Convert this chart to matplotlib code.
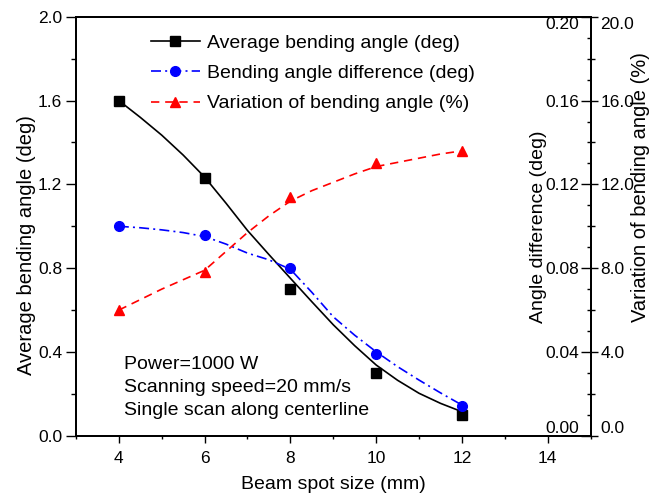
import numpy as np
import matplotlib
matplotlib.use("Agg")
from matplotlib import pyplot as plt
from matplotlib.ticker import MultipleLocator

plt.rcParams['font.family'] = ['Liberation Sans', 'DejaVu Sans']

# measured points
spot = np.array([4, 6, 8, 10, 12])
avg_angle = np.array([1.60, 1.23, 0.70, 0.30, 0.10])      # deg
angle_diff = np.array([0.100, 0.096, 0.080, 0.039, 0.014])  # deg
variation = np.array([6.0, 7.8, 11.4, 13.0, 13.6])         # %

# smoothed curves
curve_x = np.array([4, 4.5, 5, 5.5, 6, 6.5, 7, 7.5, 8, 8.5, 9, 9.5, 10, 10.5, 11, 11.5, 12])
avg_curve = np.array([1.60, 1.52, 1.435, 1.34, 1.235, 1.11, 0.98, 0.865, 0.752, 0.64,
                      0.53, 0.43, 0.338, 0.265, 0.203, 0.155, 0.115])
diff_curve = np.array([0.1000, 0.0993, 0.0983, 0.0970, 0.0951, 0.0915, 0.0872, 0.0840, 0.0795,
                       0.0685, 0.0568, 0.0480, 0.0401, 0.0330, 0.0266, 0.0205, 0.0147])
var_curve = np.array([6.0, 6.5, 7.0, 7.45, 7.9, 8.8, 9.7, 10.5, 11.2, 11.7,
                      12.1, 12.5, 12.85, 13.05, 13.25, 13.45, 13.6])

fig = plt.figure(figsize=(6.49, 4.93), dpi=100)
ax = fig.add_axes([0.117, 0.116, 0.793, 0.850])
ax2 = ax.twinx()
ax3 = ax.twinx()

blue_ls = (0, (6, 2.5, 1.2, 2.5))
red_ls = (0, (5, 3.5))

ax.plot(curve_x, avg_curve, color='black', lw=1.2)
ax.plot(spot, avg_angle, 's', color='black', ms=6.5)
ax2.plot(curve_x, diff_curve, color='blue', lw=1.2, ls=blue_ls)
ax2.plot(spot, angle_diff, 'o', color='blue', ms=7)
ax3.plot(curve_x, var_curve, color='red', lw=1.2, ls=red_ls)
ax3.plot(spot, variation, '^', color='red', ms=7.5)

# legend handles
h1, = ax.plot([], [], '-s', color='black', lw=1.2, ms=6.5)
h2, = ax.plot([], [], 'o', color='blue', lw=1.2, ms=7, ls=blue_ls)
h3, = ax.plot([], [], '^', color='red', lw=1.2, ms=7.5, ls=red_ls)
ax.legend([h1, h2, h3],
          ['Average bending angle (deg)', 'Bending angle difference (deg)',
           'Variation of bending angle (%)'],
          loc='upper left', bbox_to_anchor=(0.145, 0.959), frameon=False,
          borderpad=0, borderaxespad=0,
          fontsize=14, handlelength=2.55, handletextpad=0.35, labelspacing=0.66)

ax.set_xlim(3, 15)
ax.set_ylim(0, 2.0)
ax2.set_ylim(0, 0.20)
ax3.set_ylim(0, 20.0)

ax.set_xticks([4, 6, 8, 10, 12, 14])
ax.xaxis.set_minor_locator(MultipleLocator(1))
ax.set_yticks([0.0, 0.4, 0.8, 1.2, 1.6, 2.0])
ax.set_yticklabels(['0.0', '0.4', '0.8', '1.2', '1.6', '2.0'])
ax.yaxis.set_minor_locator(MultipleLocator(0.2))

ax2.set_yticks([0.00, 0.04, 0.08, 0.12, 0.16, 0.20])
ax2.set_yticklabels(['0.00', '0.04', '0.08', '0.12', '0.16', '0.20'])
ax2.yaxis.set_minor_locator(MultipleLocator(0.01))
ax3.set_yticks([0.0, 4.0, 8.0, 12.0, 16.0, 20.0])
ax3.set_yticklabels(['0.0', '4.0', '8.0', '12.0', '16.0', '20.0'])
ax3.yaxis.set_minor_locator(MultipleLocator(2.0))

ax.tick_params(axis='x', which='major', direction='out', length=5, width=1,
               labelsize=12.5, pad=6)
ax.tick_params(axis='x', which='minor', direction='out', length=2.5, width=1)
ax.tick_params(axis='y', which='major', direction='out', length=7, width=1,
               labelsize=12.5, pad=3)
ax.tick_params(axis='y', which='minor', direction='out', length=3.5, width=1)
ax.tick_params(top=False, right=False)
ax2.tick_params(axis='y', which='major', direction='in', length=7.5, width=1,
                pad=-8.5, labelsize=12.5)
ax2.tick_params(axis='y', which='minor', direction='in', length=3, width=1)
ax3.tick_params(axis='y', which='major', direction='out', length=5, width=1,
                pad=2, labelsize=12.5)
ax3.tick_params(axis='y', which='minor', direction='out', length=3, width=1)

for lbl in ax2.get_yticklabels():
    lbl.set_horizontalalignment('right')
# end labels of the right axes sit inside the frame
for a in (ax2, ax3):
    labels = a.get_yticklabels()
    labels[0].set_verticalalignment('bottom')
    labels[-1].set_verticalalignment('top')

for a in (ax, ax2, ax3):
    for s in a.spines.values():
        s.set_linewidth(1.2)

ax.set_xlabel('Beam spot size (mm)', fontsize=14, labelpad=7)
ax.set_ylabel('Average bending angle (deg)', fontsize=14.5)
ax.yaxis.set_label_coords(-0.078, 0.455)
ax2.set_ylabel('Angle difference (deg)', fontsize=14)
ax2.yaxis.set_label_coords(0.882, 0.5)
ax3.set_ylabel('Variation of bending angle (%)', fontsize=14.5)
ax3.yaxis.set_label_coords(1.078, 0.593)

ax.text(4.12, 0.232, 'Power=1000 W\nScanning speed=20 mm/s\nSingle scan along centerline',
        fontsize=14, ha='left', va='center', linespacing=1.45)

fig.savefig('out.png', dpi=100)
